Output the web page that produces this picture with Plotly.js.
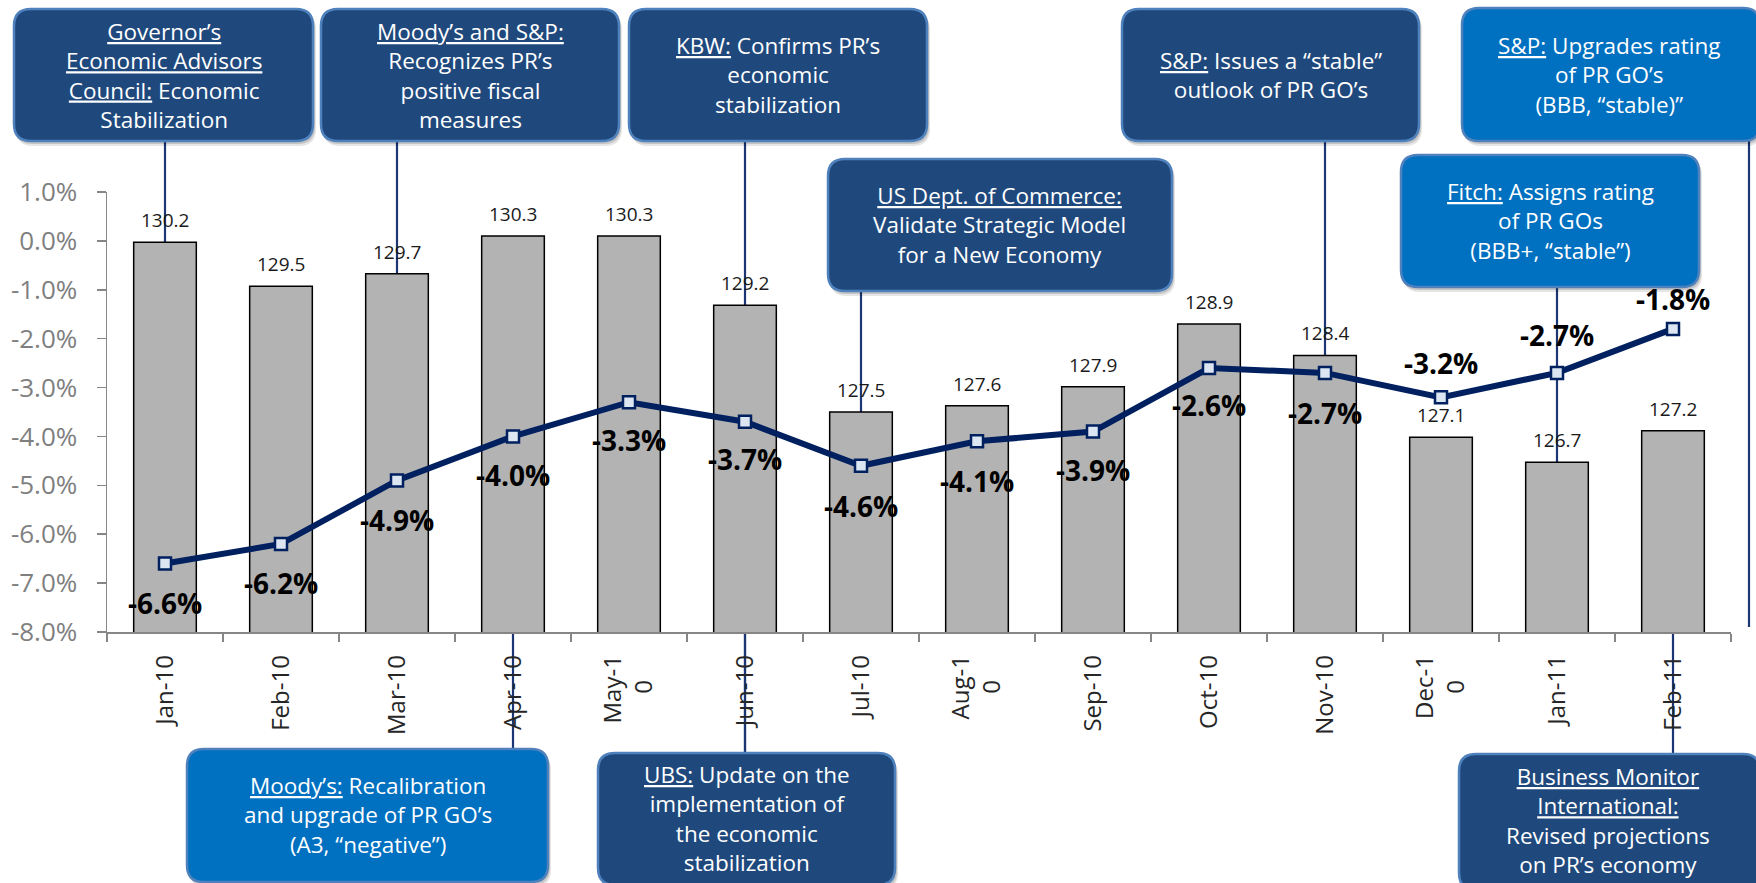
<!DOCTYPE html>
<html><head><meta charset="utf-8">
<script src="https://cdn.plot.ly/plotly-3.0.1.min.js"></script>
<style>html,body{margin:0;padding:0;background:#fff}</style>
</head><body><div id="chart" style="width:1756px;height:883px"></div>
<script>
// ---------------- DATA ----------------
const months = ["Jan-10","Feb-10","Mar-10","Apr-10","May-10","Jun-10","Jul-10","Aug-10","Sep-10","Oct-10","Nov-10","Dec-10","Jan-11","Feb-11"];
const monthTickLabels = ["Jan-10","Feb-10","Mar-10","Apr-10","May-1<br>0\u00a0\u00a0\u00a0\u00a0","Jun-10","Jul-10","Aug-1<br>0\u00a0\u00a0\u00a0\u00a0","Sep-10","Oct-10","Nov-10","Dec-1<br>0\u00a0\u00a0\u00a0\u00a0","Jan-11","Feb-11"];
const activityIndex = [130.2,129.5,129.7,130.3,130.3,129.2,127.5,127.6,127.9,128.9,128.4,127.1,126.7,127.2];
const yoyGrowth = [-6.6,-6.2,-4.9,-4.0,-3.3,-3.7,-4.6,-4.1,-3.9,-2.6,-2.7,-3.2,-2.7,-1.8];
const yTickVals = [1,0,-1,-2,-3,-4,-5,-6,-7,-8];
const yTickText = ["1.0%","0.0%","-1.0%","-2.0%","-3.0%","-4.0%","-5.0%","-6.0%","-7.0%","-8.0%"];
const eventTexts = [
  "<u>Governor’s</u><br><u>Economic Advisors</u><br><u>Council:</u> Economic<br>Stabilization",
  "<u>Moody’s and S&amp;P:</u><br>Recognizes PR’s<br>positive fiscal<br>measures",
  "<u>KBW:</u> Confirms PR’s<br>economic<br>stabilization",
  "<u>S&amp;P:</u> Issues a “stable”<br>outlook of PR GO’s",
  "<u>S&amp;P:</u> Upgrades rating<br>of PR GO’s<br>(BBB, “stable)”",
  "<u>US Dept. of Commerce:</u><br>Validate Strategic Model<br>for a New Economy",
  "<u>Fitch:</u> Assigns rating<br>of PR GOs<br>(BBB+, “stable”)",
  "<u>Moody’s:</u> Recalibration<br>and upgrade of PR GO’s<br>(A3, “negative”)",
  "<u>UBS:</u> Update on the<br>implementation of<br>the economic<br>stabilization",
  "<u>Business Monitor</u><br><u>International:</u><br>Revised projections<br>on PR’s economy"
];
const eventMonths = ["Jan-10","Mar-10","Jun-10","Nov-10",null,"Jul-10","Jan-11","Apr-10","Jun-10","Feb-11"];

// ---------------- LAYOUT HELPERS ----------------
const L=107, R=1731, T=192, B=632;
const W=R-L, H=B-T;
const px = x => (x-L)/W;
const py = y => (B-y)/H;
const catX = m => (months.indexOf(m)+0.5)/months.length;
function rrPath(x0,y0,x1,y1,r){
  const p=(x,y)=>px(x).toFixed(5)+','+py(y).toFixed(5);
  return 'M'+p(x0+r,y0)+' L'+p(x1-r,y0)+' Q'+p(x1,y0)+' '+p(x1,y0+r)+
         ' L'+p(x1,y1-r)+' Q'+p(x1,y1)+' '+p(x1-r,y1)+
         ' L'+p(x0+r,y1)+' Q'+p(x0,y1)+' '+p(x0,y1-r)+
         ' L'+p(x0,y0+r)+' Q'+p(x0,y0)+' '+p(x0+r,y0)+' Z';
}
const DARK='#1f497d', LIGHT='#0070c0';
// box geometry (pixels): [x0,y0,x1,y1,fill, connector y-range, text centre y]
const boxGeom = [
  [14,9,313,141,DARK, [141,632], 75],
  [321,9,619,141,DARK, [141,632], 75],
  [629,9,927,141,DARK, [141,753], 75],
  [1122,9,1419,141,DARK, [141,632], 75],
  [1462,8,1760,141,LIGHT, null, 75],
  [828,159,1172,291,DARK, [291,632], 225],
  [1401,155,1699,287,LIGHT, [287,632], 221],
  [187,749,548,882,LIGHT, [632,749], 815],
  [598,753,895,885,DARK, [632,753], 818],
  [1459,754,1760,890,DARK, [632,754], 820]
];

const FONT = "'Open Sans', Lato, sans-serif";
const shapes = [];
const annotations = [];

// connectors
boxGeom.forEach((g,i)=>{
  const m = eventMonths[i];
  if (m && g[5]) {
    const xx = catX(m);
    shapes.push({type:'line', layer:'below', xref:'paper', yref:'paper',
      x0:xx, x1:xx, y0:py(g[5][0]), y1:py(g[5][1]),
      line:{color:'#1c3673', width:2.2}});
  }
});
// right-edge connector for S&P upgrade
shapes.push({type:'line', layer:'below', xref:'paper', yref:'paper',
  x0:px(1749), x1:px(1749), y0:py(141), y1:py(627), line:{color:'#1c3673', width:2.2}});

// boxes with shadow + text
boxGeom.forEach((g,i)=>{
  const [x0,y0,x1,y1,fill,,ty] = g;
  shapes.push({type:'path', layer:'below', xref:'paper', yref:'paper',
    path: rrPath(x0+2,y0+4,x1+3,y1+5,17), fillcolor:'rgba(0,0,0,0.10)', line:{width:0}});
  shapes.push({type:'path', layer:'below', xref:'paper', yref:'paper',
    path: rrPath(x0+1,y0+2,x1+2,y1+3,17), fillcolor:'rgba(0,0,0,0.14)', line:{width:0}});
  shapes.push({type:'path', layer:'below', xref:'paper', yref:'paper',
    path: rrPath(x0,y0,x1,y1,17), fillcolor:fill, line:{color:'#4f81bd', width:2.5}});
  annotations.push({xref:'paper', yref:'paper', x:px((x0+Math.min(x1,1756))/2), y:py(ty),
    xanchor:'center', yanchor:'middle', showarrow:false, align:'center', borderpad:0,
    text: eventTexts[i], font:{family:FONT, size:22.5, color:'#ffffff'}});
});

// bar value labels
months.forEach((m,i)=>{
  annotations.push({x:m, y:activityIndex[i], xref:'x', yref:'y', yshift:22,
    showarrow:false, text: activityIndex[i].toFixed(1),
    font:{family:FONT, size:19, color:'#1a1a1a'}});
});
// growth labels (last three placed above the line)
const growthLabelShift = [-39,-39,-40,-39,-38,-37,-40,-40,-38,-37,-40,34,38,30];
months.forEach((m,i)=>{
  annotations.push({x:m, y:yoyGrowth[i], xref:'x', yref:'y2', yshift:growthLabelShift[i],
    showarrow:false, text: '<b>'+yoyGrowth[i].toFixed(1)+'%</b>',
    font:{family:FONT, size:28, color:'#000000'}});
});

const traces = [
  {type:'bar', x:months, y:activityIndex, yaxis:'y', hoverinfo:'skip',
   marker:{color:'#b3b3b3', line:{color:'#000000', width:1.5}}},
  {type:'scatter', mode:'lines+markers', x:months, y:yoyGrowth, yaxis:'y2', hoverinfo:'skip',
   line:{color:'#002060', width:6},
   marker:{symbol:'square', size:12, color:'#dce6f2', line:{color:'#002060', width:2.5}}}
];

const layout = {
  width:1756, height:883,
  margin:{l:L, r:1756-R, t:T, b:883-B, pad:0},
  paper_bgcolor:'#ffffff', plot_bgcolor:'rgba(0,0,0,0)',
  showlegend:false, bargap:0.46,
  font:{family:FONT},
  xaxis:{type:'category', range:[-0.5,13.5], tickmode:'array', tickvals:months, ticktext:monthTickLabels,
    tickangle:-90, ticks:'outside', tickson:'boundaries', ticklen:8, tickwidth:1.5, tickcolor:'#868686',
    ticklabelstandoff:12,
    showline:true, linecolor:'#868686', linewidth:1.5, showgrid:false, zeroline:false,
    tickfont:{family:FONT, size:24, color:'#262626'}},
  yaxis:{range:[124,131], visible:false, showgrid:false, zeroline:false},
  yaxis2:{overlaying:'y', side:'left', range:[-8,1], tickmode:'array', tickvals:yTickVals, ticktext:yTickText,
    ticks:'outside', ticklen:9, tickwidth:1.5, tickcolor:'#868686', showline:true, linecolor:'#868686', linewidth:1.5,
    ticklabelstandoff:14,
    showgrid:false, zeroline:false, tickfont:{family:FONT, size:26, color:'#7f7f7f'}},
  shapes:shapes, annotations:annotations
};
Plotly.newPlot('chart', traces, layout, {staticPlot:true});
</script></body></html>
